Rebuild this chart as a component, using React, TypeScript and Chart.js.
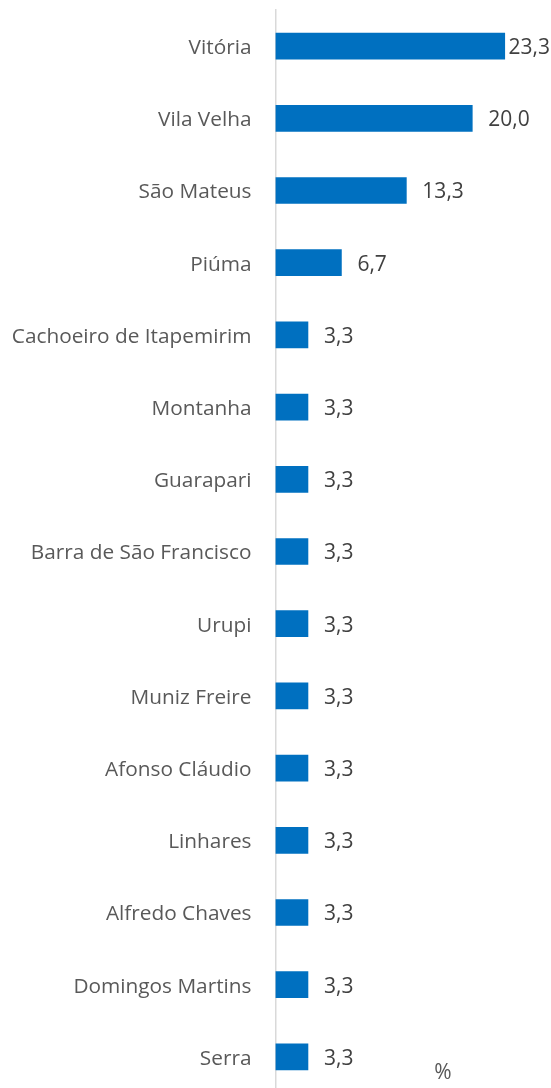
import React, { useEffect, useRef } from "react";
import { Chart, registerables } from "chart.js";

Chart.register(...registerables);

const categories = [
  "Vitória",
  "Vila Velha",
  "São Mateus",
  "Piúma",
  "Cachoeiro de Itapemirim",
  "Montanha",
  "Guarapari",
  "Barra de São Francisco",
  "Urupi",
  "Muniz Freire",
  "Afonso Cláudio",
  "Linhares",
  "Alfredo Chaves",
  "Domingos Martins",
  "Serra",
];
const values = [23.3, 20.0, 13.3, 6.7, 3.3, 3.3, 3.3, 3.3, 3.3, 3.3, 3.3, 3.3, 3.3, 3.3, 3.3];
const unitLabel = "%";

const FONT = "'Open Sans', 'Noto Sans', sans-serif";

const labelPlugin = {
  id: "valueLabels",
  afterDatasetsDraw(chart: any) {
    const ctx = chart.ctx;
    const meta = chart.getDatasetMeta(0);
    ctx.save();
    ctx.font = `21px ${FONT}`;
    ctx.fillStyle = "#404040";
    ctx.textBaseline = "middle";
    ctx.textAlign = "left";
    meta.data.forEach((bar: any, i: number) => {
      const txt = values[i].toFixed(1).replace(".", ",");
      const w = ctx.measureText(txt).width;
      let x = bar.x + 16;
      if (x + w > chart.width - 1) x = Math.max(bar.x + 2, chart.width - 1 - w);
      ctx.fillText(txt, x, bar.y + 2);
    });
    ctx.fillStyle = "#595959";
    ctx.textAlign = "center";
    ctx.fillText(unitLabel, 443, 1073);
    ctx.restore();
  },
};

export default function App() {
  const ref = useRef<HTMLCanvasElement>(null);
  useEffect(() => {
    document.body.style.margin = "0";
    document.body.style.overflow = "hidden";
    const chart = new Chart(ref.current!, {
      type: "bar",
      data: {
        labels: categories,
        datasets: [
          {
            data: values,
            backgroundColor: "#0070C0",
            barThickness: 26,
          },
        ],
      },
      options: {
        indexAxis: "y",
        animation: false,
        responsive: false,
        maintainAspectRatio: false,
        layout: { padding: { top: 10, bottom: 7, left: 0, right: 0 } },
        plugins: { legend: { display: false }, tooltip: { enabled: false } },
        scales: {
          x: { display: false, min: 0, max: 28 },
          y: {
            grid: { display: false },
            border: { display: true, color: "#d9d9d9", width: 1.5 },
            ticks: {
              color: "#595959",
              font: { family: FONT, size: 20.8 },
              padding: 16,
              labelOffset: 2,
            },
            afterFit(scale: any) {
              scale.paddingTop = 0;
              scale.paddingBottom = 0;
            },
          },
        },
      },
      plugins: [labelPlugin],
    });
    return () => chart.destroy();
  }, []);
  return <canvas ref={ref} width={551} height={1100} style={{ display: "block" }} />;
}
